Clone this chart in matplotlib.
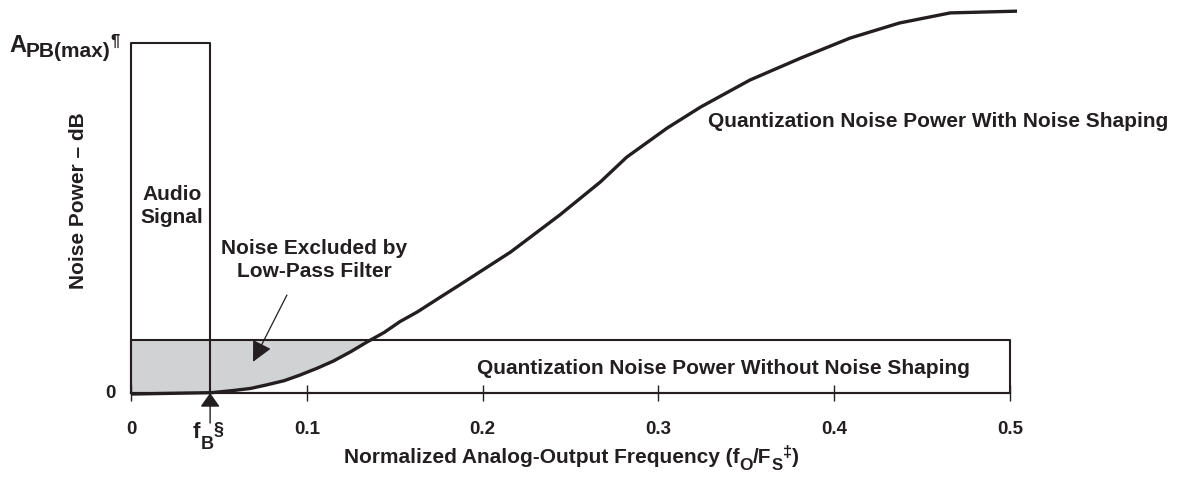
import numpy as np
import matplotlib
matplotlib.use("Agg")
import matplotlib.pyplot as plt

# values (x: f/Fs, y: noise power, A_PB(max) = 1)
freq = [0, 0.022, 0.046, 0.058, 0.068, 0.077, 0.087, 0.096, 0.106, 0.115,
        0.125, 0.134, 0.144, 0.153, 0.163, 0.176, 0.187, 0.216, 0.244, 0.267,
        0.282, 0.305, 0.324, 0.352, 0.381, 0.409, 0.437, 0.466, 0.504]
shaped = [-0.003, -0.001, 0.001, 0.007, 0.013, 0.023, 0.035, 0.051, 0.071, 0.091,
          0.118, 0.145, 0.173, 0.204, 0.232, 0.274, 0.309, 0.403, 0.509, 0.603,
          0.674, 0.757, 0.817, 0.894, 0.957, 1.014, 1.057, 1.086, 1.091]
flat_level = 0.151
flat_end = 0.5
f_b = 0.045
a_pb_max = 1.0
xticks = [0, 0.1, 0.2, 0.3, 0.4, 0.5]
xticklabels = ["0", "0.1", "0.2", "0.3", "0.4", "0.5"]

plt.rcParams['font.family'] = ['Liberation Sans', 'DejaVu Sans']
plt.rcParams['font.weight'] = 'bold'

ink = '#231f20'
fs = 15

fig = plt.figure(figsize=(11.82, 4.79), dpi=100)
ax = fig.add_axes([131 / 1182, 86 / 479, 879 / 1182, 385 / 479])
ax.set_xlim(0, 0.5)
ax.set_ylim(0, 1.1)


def chain(first, pieces):
    # put text pieces one after another, dy in points from the base line
    prev, prev_dy = first, 0
    for s, size, dy in pieces:
        prev = ax.annotate(s, xy=(1, 0), xycoords=prev, xytext=(0, dy - prev_dy),
                           textcoords='offset points', ha='left', va='bottom',
                           fontsize=size, color=ink, annotation_clip=False)
        prev_dy = dy
    return prev


x = np.array(freq)
y = np.array(shaped)
ax.fill_between(x, y, flat_level, where=y <= flat_level + 1e-9, interpolate=True,
                color='#d1d2d4', lw=0, zorder=1)

# without noise shaping box
ax.plot([0, 0, flat_end, flat_end, 0], [0, flat_level, flat_level, 0, 0],
        color=ink, lw=1.5, zorder=2, clip_on=False)
# audio signal box
ax.plot([0, 0, f_b, f_b], [0, a_pb_max, a_pb_max, 0],
        color=ink, lw=1.5, zorder=2, clip_on=False)
# shaped noise
ax.plot(x, y, color=ink, lw=2.4, zorder=3, clip_on=False, solid_capstyle='butt')

for s in ['top', 'right', 'left']:
    ax.spines[s].set_visible(False)
ax.spines['bottom'].set_color(ink)
ax.spines['bottom'].set_linewidth(1.5)
ax.set_yticks([])
ax.set_xticks(xticks)
ax.set_xticklabels(xticklabels, fontsize=13.5, fontweight='bold', color=ink)
ax.tick_params(axis='x', direction='inout', length=12, width=1, color=ink, pad=14)

ax.text(-0.0085, 0, "0", ha='right', va='center', fontsize=13.5, color=ink)
t = ax.text(-0.0694, 0.974, "A", ha='left', va='baseline', fontsize=17, color=ink)
chain(t, [("PB(max)", 15, -3), ("¶", 12, 6)])

ax.set_ylabel("Noise Power – dB", fontsize=fs, fontweight='bold', color=ink)
ax.yaxis.set_label_coords(-0.049, 0.5)

ax.annotate('', xy=(f_b, 0), xytext=(f_b, -0.086),
            arrowprops=dict(arrowstyle='-|>,head_length=0.85,head_width=0.6',
                            mutation_scale=10, color=ink, lw=1, shrinkA=0, shrinkB=0),
            annotation_clip=False)
t = ax.text(0.0353, -0.1286, "f", ha='left', va='baseline', fontsize=16, color=ink)
chain(t, [("B", 13, -7.5), ("§", 13, 3)])

t = ax.text(0.1212, -0.2, "Normalized Analog-Output Frequency (f", ha='left',
            va='baseline', fontsize=fs, color=ink)
chain(t, [("O", 12.5, -4), ("/F", fs, 0), ("S", 12, -4), ("‡", 12, 5), (")", fs, 0)])

ax.text(0.0233, 0.534, "Audio\nSignal", ha='center', va='center', fontsize=fs,
        color=ink, linespacing=1.25)
ax.text(0.1041, 0.38, "Noise Excluded by\nLow-Pass Filter", ha='center', va='center',
        fontsize=fs, color=ink, linespacing=1.25)
ax.annotate('', xy=(0.0694, 0.089), xytext=(0.0887, 0.280),
            arrowprops=dict(arrowstyle='-|>,head_length=0.9,head_width=0.45',
                            mutation_scale=14, color=ink, lw=0.9, shrinkA=0, shrinkB=0))
ax.text(0.328, 0.777, "Quantization Noise Power With Noise Shaping", ha='left',
        va='center', fontsize=fs, color=ink)
ax.text(0.1968, 0.071, "Quantization Noise Power Without Noise Shaping", ha='left',
        va='center', fontsize=fs, color=ink)

fig.savefig("out.png", dpi=100)
